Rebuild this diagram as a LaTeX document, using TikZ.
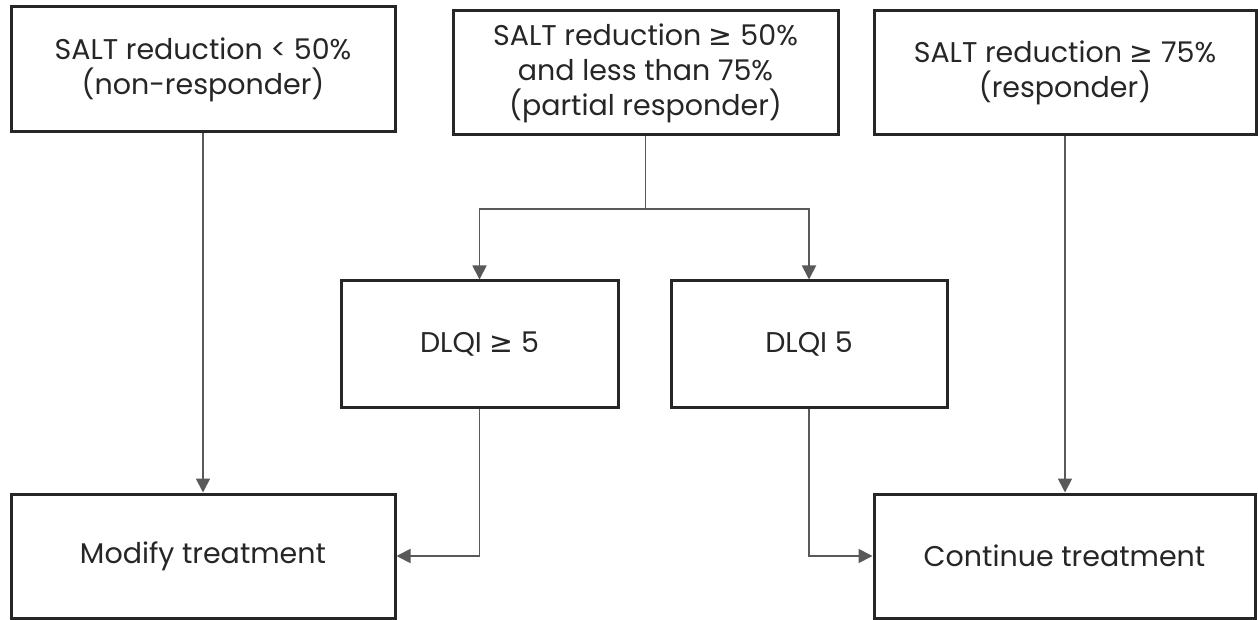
\documentclass[tikz,border=0pt]{standalone}
\usepackage{fontspec}
\setmainfont{Poppins}
\newfontfamily\symfont{DejaVu Sans}
\usepackage{tikz}
\usetikzlibrary{arrows.meta,positioning,calc}
\newcommand{\gte}{{\symfont ≥}}

\begin{document}
\begin{tikzpicture}[x=1pt,y=-1pt,>={Triangle[width=14pt,length=14pt]},auto]
			\tikzstyle{box}=[draw=black!85,line width=3pt,fill=white,inner sep=0pt,align=center,font=\fontsize{28.5}{35}\selectfont,text=black!85]
			\tikzstyle{link}=[draw=black!65,line width=1.8pt,->]
			
			\useasboundingbox (0,0) rectangle (1258,620);
			
			\node[box, minimum width=384pt, minimum height=125pt]    (nonresp)  at (203,69.5)    {SALT reduction < 50\%\\(non-responder)};
			
			\node[box, minimum width=385pt, minimum height=124pt]    (partial)  at (645.5,73)    {SALT reduction \gte{} 50\%\\and less than 75\%\\(partial responder)};
			
			\node[box, minimum width=382pt, minimum height=124pt]    (resp)     at (1065,73)     {SALT reduction \gte{} 75\%\\(responder)};
			
			\node[box, minimum width=277pt, minimum height=126pt]    (dlqihigh) at (479.5,344)   {DLQI \gte{} 5};
			
			\node[box, minimum width=276pt, minimum height=126pt]    (dlqilow)  at (809,344)     {DLQI 5};
			
			\node[box, minimum width=384pt, minimum height=124pt]    (modify)   at (203,556)     {Modify treatment};
			
			\node[box, minimum width=381pt, minimum height=124pt]    (cont)     at (1064.5,556)  {Continue treatment};
			
			\coordinate (fork) at (partial.south |- 0,209);
			
			\draw[link, -] (partial) -- (fork);
			
			\draw[link] (fork) -| (dlqihigh);
			
			\draw[link] (fork) -| (dlqilow);
			
			\draw[link] (nonresp) -- (modify);
			
			\draw[link] (resp) -- (resp |- cont.north);
			
			\draw[link] (dlqihigh) |- (modify);
			
			\draw[link] (dlqilow) |- (cont);
			
\end{tikzpicture}
\end{document}
